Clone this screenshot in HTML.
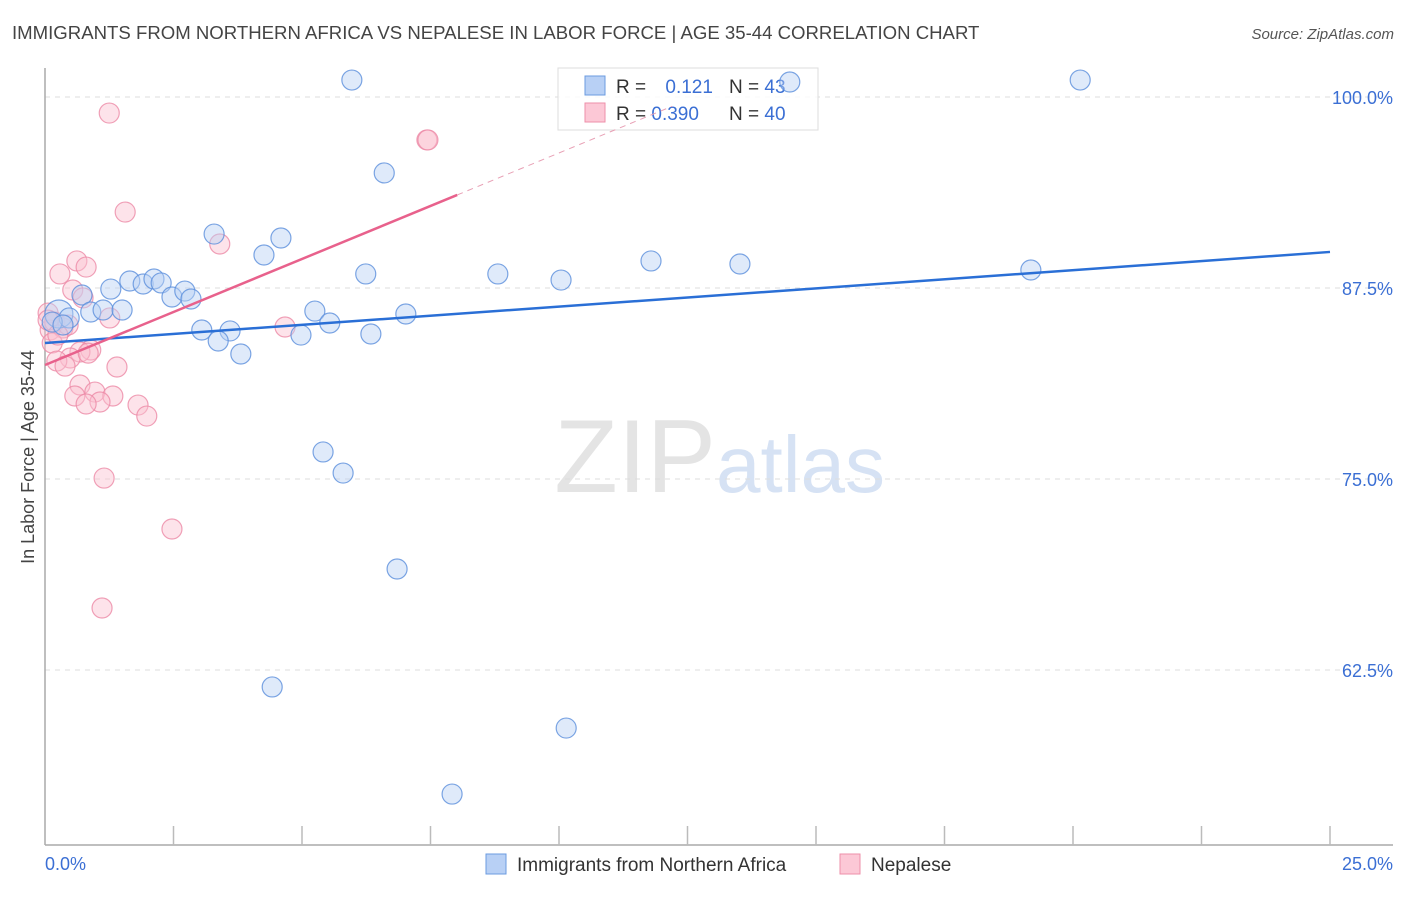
<!DOCTYPE html>
<html><head><meta charset="utf-8"><style>
body{margin:0;background:#fff;}
svg text{font-family:"Liberation Sans",sans-serif;}
</style></head><body>
<svg id="chart" width="1406" height="892" viewBox="0 0 1406 892" xmlns="http://www.w3.org/2000/svg">
<text x="12" y="39" font-size="18.6" fill="#444">IMMIGRANTS FROM NORTHERN AFRICA VS NEPALESE IN LABOR FORCE | AGE 35-44 CORRELATION CHART</text>
<text x="1394" y="39" font-size="15" fill="#555" font-style="italic" text-anchor="end">Source: ZipAtlas.com</text>
<text x="716" y="492" font-size="104" fill="#e4e4e4" text-anchor="end" font-family="Liberation Serif">ZIP</text>
<text x="716" y="492" font-size="80" fill="#d6e2f4">atlas</text>
<g id="grid"></g>
<g id="axes"></g>
<g>
<rect x="558" y="68" width="260" height="62" fill="#fff" fill-opacity="0.85" stroke="#ddd"/>
<rect x="585" y="76" width="20" height="19" fill="#b8d0f5" stroke="#6b9be0"/>
<text x="616" y="93" font-size="19" fill="#333">R = <tspan fill="#3b6fd4" dx="14">0.121</tspan></text>
<text x="729" y="93" font-size="19" fill="#333">N = <tspan fill="#3b6fd4">43</tspan></text>
<rect x="585" y="103" width="20" height="19" fill="#fcc8d6" stroke="#ee8fa9"/>
<text x="616" y="120" font-size="19" fill="#333">R = <tspan fill="#3b6fd4">0.390</tspan></text>
<text x="729" y="120" font-size="19" fill="#333">N = <tspan fill="#3b6fd4">40</tspan></text>
</g>
<g id="marks"></g>
<text transform="translate(34,457) rotate(-90)" font-size="18" fill="#444" text-anchor="middle">In Labor Force | Age 35-44</text>
<text x="45" y="870" font-size="18" fill="#3b6fd4">0.0%</text>
<text x="1393" y="870" font-size="18" fill="#3b6fd4" text-anchor="end">25.0%</text>
<g>
<rect x="486" y="854" width="20" height="20" fill="#b8d0f5" stroke="#6b9be0"/>
<text x="517" y="871" font-size="19" fill="#333">Immigrants from Northern Africa</text>
<rect x="840" y="854" width="20" height="20" fill="#fcc8d6" stroke="#ee8fa9"/>
<text x="871" y="871" font-size="19" fill="#333">Nepalese</text>
</g>
</svg>
<script>
const yTicks=[100,87.5,75,62.5];
const yTickLabels=["100.0%","87.5%","75.0%","62.5%"];
const xTicks=[0,2.5,5,7.5,10,12.5,15,17.5,20,22.5,25];
const blueX=[5.97,20.14,14.49,6.60,3.29,4.59,4.26,6.24,8.81,10.04,11.79,13.52,19.18,1.65,1.91,2.12,2.26,1.28,2.47,2.72,2.84,0.72,0.89,1.13,1.50,0.27,0.47,0.14,0.35,3.05,3.60,3.37,3.81,5.25,5.54,4.98,6.34,7.02,5.41,5.80,6.85,4.42,10.14,7.92];
const blueY=[101.11,101.11,100.98,95.03,91.03,90.77,89.66,88.42,88.42,88.02,89.27,89.07,88.68,87.96,87.76,88.09,87.83,87.43,86.91,87.30,86.78,87.04,85.93,86.06,86.06,85.80,85.54,85.27,85.08,84.75,84.69,84.03,83.18,85.99,85.21,84.42,84.49,85.80,76.77,75.39,69.11,61.39,58.70,54.38];
const pinkX=[1.25,7.43,7.45,1.56,3.40,0.62,0.80,0.29,0.54,0.74,1.26,4.67,0.06,0.10,0.19,0.35,0.45,0.14,0.89,0.68,0.49,0.23,0.39,1.40,0.68,0.97,0.58,1.32,1.07,0.80,1.81,1.98,1.15,2.47,1.11,0.06,0.84,0.25];
const pinkY=[98.95,97.19,97.19,92.47,90.38,89.27,88.87,88.42,87.37,86.85,85.54,84.95,85.86,84.75,85.27,84.88,85.08,83.90,83.44,83.31,82.92,82.72,82.39,82.33,81.15,80.69,80.43,80.43,80.04,79.91,79.84,79.12,75.06,71.73,66.56,85.40,83.24,84.42];
const blueTrend=[83.90,89.86];
const pinkTrend=[82.46,93.59];
const pinkTrendEnd=8.02;

const X0=45,X1=1330,Y100=97,Ppx=191/12.5;
const xs=v=>X0+(v/25)*(X1-X0);
const ys=v=>Y100+(100-v)*Ppx;
const NS="http://www.w3.org/2000/svg";
function mk(tag,parent,attrs){const e=document.createElementNS(NS,tag);for(const k in attrs)e.setAttribute(k,attrs[k]);document.getElementById(parent).appendChild(e);return e;}

yTicks.forEach((t,i)=>{
  const g=mk('line','grid',{x1:X0,x2:1393,y1:ys(t),y2:ys(t),stroke:'#ddd','stroke-dasharray':'5,5'});
  
  
  const l=mk('text','grid',{x:1393,y:ys(t)+7,'font-size':18,fill:'#3b6fd4','text-anchor':'end'});
  l.textContent=yTickLabels[i];
  
  
});
const ax=mk('line','axes',{x1:X0,x2:X0,y1:68,y2:845,stroke:'#aaa','stroke-width':1.5});


const bx=mk('line','axes',{x1:X0,x2:1393,y1:845,y2:845,stroke:'#aaa','stroke-width':1.5});


xTicks.forEach(t=>{if(t===0)return;
  const k=mk('line','axes',{x1:xs(t),x2:xs(t),y1:826,y2:845,stroke:'#bbb','stroke-width':1.5});
  
  
});
function dots(X,Y,fill,stroke,name){X.forEach((x,i)=>{
  const r=(i===25&&name==='blue-point')?14:10;
  const c=mk('circle','marks',{cx:xs(x),cy:ys(Y[i]),r:r,fill:fill,'fill-opacity':0.45,stroke:stroke,'stroke-opacity':0.8,'stroke-width':1.2});
  
  
});}
dots(pinkX,pinkY,'#fbc0d0','#ec8aa6','pink-point');
dots(blueX,blueY,'#b8d0f5','#5b8fdc','blue-point');
const bl=mk('line','marks',{x1:xs(0),y1:ys(blueTrend[0]),x2:xs(25),y2:ys(blueTrend[1]),stroke:'#2a6fd6','stroke-width':2.5});


const slope=(pinkTrend[1]-pinkTrend[0])/pinkTrendEnd;
const pl=mk('line','marks',{x1:xs(0),y1:ys(pinkTrend[0]),x2:xs(pinkTrendEnd),y2:ys(pinkTrend[1]),stroke:'#e8618c','stroke-width':2.5});


const pd=mk('line','marks',{x1:xs(pinkTrendEnd),y1:ys(pinkTrend[1]),x2:xs(12.2),y2:ys(pinkTrend[0]+slope*12.2),stroke:'#e8a0b5','stroke-width':1,'stroke-dasharray':'6,5'});


</script>
</body></html>
